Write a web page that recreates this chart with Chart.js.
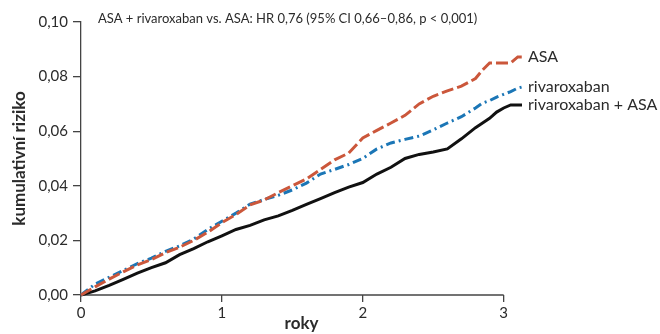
<!DOCTYPE html>
<html>
<head>
<meta charset="utf-8">
<script src="https://cdn.jsdelivr.net/npm/chart.js@4"></script>
<style>
  body { margin: 0; background: #fff; }
  #chart { display: block; }
</style>
</head>
<body>
<canvas id="chart" width="660" height="334"></canvas>
<script>
// follow-up time in years (curves run a little past the last labelled year)
const years = [0, 0.1, 0.2, 0.3, 0.4, 0.5, 0.6, 0.7, 0.8, 0.9, 1.0, 1.1, 1.2, 1.3, 1.4, 1.5,
    1.6, 1.7, 1.8, 1.9, 2.0, 2.1, 2.2, 2.3, 2.4, 2.5, 2.6, 2.7, 2.8, 2.85, 2.9, 2.95,
    3.0, 3.05, 3.1, 3.13];
const yearTicks = [0, 1, 2, 3];

const asaRisk = [0, 0.003, 0.0058, 0.0085, 0.011, 0.013, 0.0155, 0.0175, 0.0200, 0.023,
    0.0265, 0.0295, 0.033, 0.0348, 0.0375, 0.040, 0.0425, 0.046, 0.0495, 0.052, 0.0575,
    0.0603, 0.063, 0.0658, 0.070, 0.0728, 0.0748, 0.0765, 0.0793, 0.0824, 0.085, 0.085,
    0.085, 0.085, 0.0872, 0.0872];

const rivaRisk = [0, 0.004, 0.0065, 0.009, 0.0115, 0.0135, 0.016, 0.018, 0.0205, 0.024,
    0.027, 0.030, 0.0333, 0.035, 0.0365, 0.0385, 0.041, 0.0443, 0.046, 0.0478, 0.050,
    0.0535, 0.0557, 0.0570, 0.0582, 0.0605, 0.063, 0.0653, 0.0685, 0.0703, 0.0712, 0.0725,
    0.0735, 0.0745, 0.0758, 0.0762];

const comboRisk = [0, 0.0015, 0.0035, 0.0057, 0.008, 0.010, 0.0118, 0.0148, 0.017, 0.0195,
    0.0217, 0.024, 0.0255, 0.0275, 0.029, 0.031, 0.0332, 0.0353, 0.0375, 0.0395, 0.0412,
    0.0443, 0.0468, 0.050, 0.0515, 0.0524, 0.0535, 0.0572, 0.0613, 0.063, 0.0647, 0.067,
    0.0685, 0.0696, 0.0696, 0.0696];

const seriesNames = ['ASA', 'rivaroxaban', 'rivaroxaban + ASA'];
const headline = 'ASA + rivaroxaban vs. ASA: HR 0,76 (95% CI 0,66–0,86, p < 0,001)';

const FONT = 'Lato, "Open Sans", sans-serif';
const TEXT = '#2b2b2b';
const AXIS = '#444';

function points(vals) {
    return years.map((t, i) => ({ x: t, y: vals[i] }));
}

// x axis line only spans the labelled years; headline and end labels as text
const annotate = {
    id: 'annotate',
    beforeDatasetsDraw(chart) {
        const ctx = chart.ctx;
        const x = chart.scales.x;
        const y0 = chart.scales.y.getPixelForValue(0);
        ctx.save();
        ctx.strokeStyle = AXIS;
        ctx.lineWidth = 1.3;
        ctx.beginPath();
        ctx.moveTo(x.getPixelForValue(yearTicks[0]), y0);
        ctx.lineTo(x.getPixelForValue(yearTicks[yearTicks.length - 1]), y0);
        ctx.stroke();
        ctx.restore();
    },
    afterDatasetsDraw(chart) {
        const ctx = chart.ctx;
        const area = chart.chartArea;
        ctx.save();
        ctx.fillStyle = TEXT;
        ctx.textBaseline = 'middle';
        ctx.textAlign = 'left';
        ctx.font = '13px ' + FONT;
        ctx.fillText(headline, area.left + 17, 19);

        ctx.font = '16px ' + FONT;
        chart.data.datasets.forEach((ds, i) => {
            const pts = chart.getDatasetMeta(i).data;
            const last = pts[pts.length - 1];
            ctx.fillText(ds.label, last.x + 6, last.y);
        });
        ctx.restore();
    }
};

new Chart(document.getElementById('chart'), {
    type: 'line',
    data: {
        datasets: [
            {
                label: seriesNames[0],
                data: points(asaRisk),
                borderColor: '#cb573b',
                borderWidth: 3,
                borderDash: [12, 4],
                pointRadius: 0,
                clip: false
            },
            {
                label: seriesNames[1],
                data: points(rivaRisk),
                borderColor: '#1b76b6',
                borderWidth: 3,
                borderDash: [9, 4, 2, 4],
                pointRadius: 0,
                clip: false
            },
            {
                label: seriesNames[2],
                data: points(comboRisk),
                borderColor: '#111111',
                borderWidth: 3,
                pointRadius: 0,
                clip: false
            }
        ]
    },
    options: {
        responsive: false,
        animation: false,
        layout: { padding: { top: 22, right: 138, left: 0, bottom: 0 } },
        plugins: {
            legend: { display: false },
            tooltip: { enabled: false }
        },
        scales: {
            x: {
                type: 'linear',
                min: 0,
                max: years[years.length - 1],
                afterBuildTicks: s => { s.ticks = yearTicks.map(v => ({ value: v })); },
                afterFit: s => { s.height = 39; },
                ticks: { color: TEXT, padding: 2, font: { family: FONT, size: 15 } },
                grid: { drawOnChartArea: false, drawTicks: true, tickLength: 7, color: AXIS, lineWidth: 1.3 },
                border: { display: false },
                title: {
                    display: true,
                    text: 'roky',
                    color: TEXT,
                    padding: 0,
                    font: { family: FONT, size: 17, weight: 'bold' }
                }
            },
            y: {
                min: 0,
                max: 0.1,
                afterFit: s => { s.width = 81; },
                ticks: {
                    stepSize: 0.02,
                    color: TEXT,
                    padding: 5,
                    font: { family: FONT, size: 15 },
                    callback: v => v.toFixed(2).replace('.', ',')
                },
                grid: { drawOnChartArea: false, drawTicks: true, tickLength: 8, color: AXIS, lineWidth: 1.3 },
                border: { display: true, color: AXIS, width: 1.3 },
                title: {
                    display: true,
                    text: 'kumulativní riziko',
                    color: TEXT,
                    padding: { top: 9, bottom: 0 },
                    font: { family: FONT, size: 17, weight: 'bold' }
                }
            }
        }
    },
    plugins: [annotate]
});
</script>
</body>
</html>
